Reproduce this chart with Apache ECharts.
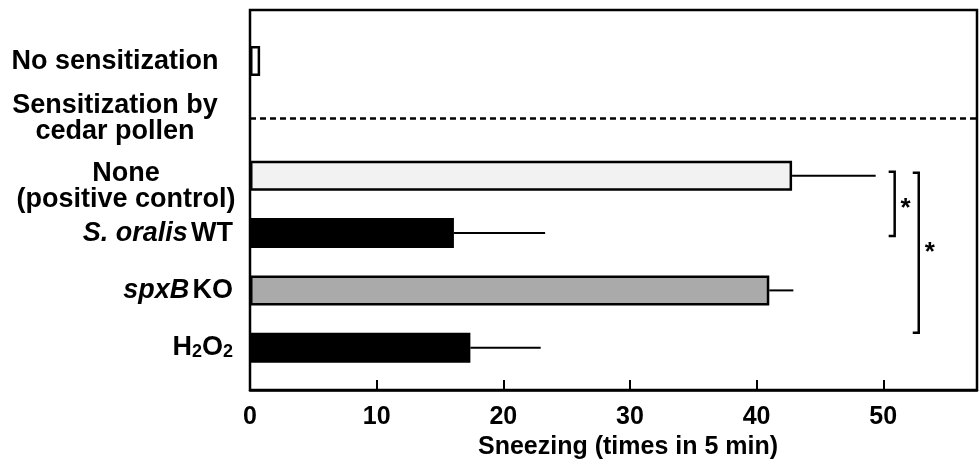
<!DOCTYPE html>
<html><head><meta charset="utf-8">
<script src="https://cdn.jsdelivr.net/npm/echarts@6/dist/echarts.min.js"></script>
<style>html,body{margin:0;padding:0;background:#fff}#c{width:980px;height:462px}</style>
</head><body><div id="c"></div>
<script>
// ---- data ----
const categories = ['No sensitization', 'Sensitization by cedar pollen', 'None (positive control)', 'S. oralis WT', 'spxB KO', 'H2O2'];
const means = [0.8, null, 42.8, 16.1, 41.0, 17.4];
const upperErr = [null, null, 49.4, 23.3, 42.9, 22.95];
const barColors = ['#ffffff', null, '#f2f2f2', '#000000', '#aaaaaa', '#000000'];
const xTicks = [0, 10, 20, 30, 40, 50];
const xMax = 57.4;
const dashedRow = 1;
// significance brackets: [fromRow, toRow, xValue]
const brackets = [[2, 3, 50.9], [2, 5, 52.8]];
const bracketLabels = ['*', '*'];

// ---- styling ----
const FF = '"Liberation Sans", Arial, Helvetica, sans-serif';
const bracketEndAdj = [[-4, 3], [-3, -15]];
const starAdj = [0, -5];

const labelFormat = {
  'No sensitization': '{c|No sensitization}',
  'Sensitization by cedar pollen': '{c|Sensitization by}\n{c|cedar pollen}',
  'None (positive control)': '{p1|None}\n{p|(positive control)}',
  'S. oralis WT': '{i|S. oralis} {b|WT}',
  'spxB KO': '{i|spxB} {b|KO}',
  'H2O2': '{b|H}{s|2}{b|O}{s|2}'
};

const chart = echarts.init(document.getElementById('c'), null, {renderer: 'canvas'});

const barData = means.map((v, i) => v == null ? '-' : {value: v, itemStyle: {color: barColors[i]}});
const errData = [];
means.forEach((m, i) => { if (upperErr[i] != null) errData.push([m, i, upperErr[i]]); });
const brData = brackets.map((b, k) => [b[2], b[0], b[1], k]);

const baseText = {fontFamily: FF, fontWeight: 'bold', fontSize: 27, color: '#000'};

chart.setOption({
  animation: false,
  backgroundColor: '#fff',
  grid: [
    {left: 250, right: 3, top: 10, bottom: 72, show: true, borderColor: '#000', borderWidth: 2.5,
      backgroundColor: 'transparent', containLabel: false, outerBoundsMode: 'none'},
    {left: 250, right: 3, top: 32.4, height: 344, show: false, containLabel: false, outerBoundsMode: 'none'}
  ],
  xAxis: [
    {
      gridIndex: 0, type: 'value', min: 0, max: xMax, interval: 10,
      axisLine: {show: true, lineStyle: {color: '#000', width: 2.5}},
      axisTick: {show: true, inside: true, length: 10, lineStyle: {color: '#000', width: 2}},
      axisLabel: {margin: 15, fontSize: 25, fontWeight: 'bold', color: '#000', fontFamily: FF, showMaxLabel: false,
        formatter: v => xTicks.indexOf(v) >= 0 ? String(v) : ''},
      splitLine: {show: false},
      name: 'Sneezing (times in 5 min)', nameLocation: 'middle', nameGap: 30,
      nameTextStyle: {fontSize: 25, fontWeight: 'bold', color: '#000', fontFamily: FF, padding: [0, 0, 0, 29]}
    },
    {gridIndex: 1, type: 'value', min: 0, max: xMax, show: false}
  ],
  yAxis: [
    {gridIndex: 0, type: 'category', data: categories, show: false},
    {
      gridIndex: 1, type: 'category', data: categories, inverse: true,
      axisLine: {show: false}, axisTick: {show: false}, splitLine: {show: false},
      axisLabel: {
        margin: 17, align: 'right',
        formatter: v => labelFormat[v] || v,
        rich: {
          b: Object.assign({}, baseText),
          i: Object.assign({}, baseText, {fontStyle: 'italic'}),
          s: Object.assign({}, baseText, {fontSize: 18, verticalAlign: 'bottom'}),
          c: Object.assign({}, baseText, {width: 236, align: 'center', lineHeight: 26}),
          p1: Object.assign({}, baseText, {width: 214, align: 'center', lineHeight: 48, verticalAlign: 'bottom'}),
          p: Object.assign({}, baseText, {width: 214, align: 'center', lineHeight: 26})
        }
      }
    }
  ],
  series: [
    {
      type: 'bar', xAxisIndex: 1, yAxisIndex: 1, data: barData, barWidth: 30,
      itemStyle: {borderColor: '#000', borderWidth: 2.5},
      markLine: {
        silent: true, symbol: 'none', label: {show: false},
        lineStyle: {type: [6, 4], color: '#000', width: 2.5},
        data: [{yAxis: categories[dashedRow]}]
      }
    },
    {
      type: 'custom', xAxisIndex: 1, yAxisIndex: 1, data: errData,
      encode: {x: [0, 2], y: 1},
      renderItem: function (params, api) {
        const row = api.value(1);
        const p1 = api.coord([api.value(0), row]);
        const p2 = api.coord([api.value(2), row]);
        return {type: 'line', shape: {x1: p1[0], y1: p1[1], x2: p2[0], y2: p2[1]}, style: {stroke: '#000', lineWidth: 2}};
      }
    },
    {
      type: 'custom', xAxisIndex: 1, yAxisIndex: 1, data: brData,
      encode: {x: 0, y: [1, 2]},
      renderItem: function (params, api) {
        const k = api.value(3);
        const a = api.coord([api.value(0), api.value(1)]);
        const b = api.coord([api.value(0), api.value(2)]);
        const x = a[0];
        const y1 = a[1] + bracketEndAdj[k][0];
        const y2 = b[1] + bracketEndAdj[k][1];
        return {
          type: 'group',
          children: [
            {type: 'polyline', shape: {points: [[x - 6, y1], [x, y1], [x, y2], [x - 6, y2]]}, style: {stroke: '#000', lineWidth: 2.5, fill: null}},
            {type: 'text', x: x + 11, y: (y1 + y2) / 2 + starAdj[k] + 5,
              style: {text: bracketLabels[k], fontSize: 26, fontWeight: 'bold', fontFamily: FF, fill: '#000', align: 'center', verticalAlign: 'middle'}}
          ]
        };
      }
    }
  ]
});
</script></body></html>
